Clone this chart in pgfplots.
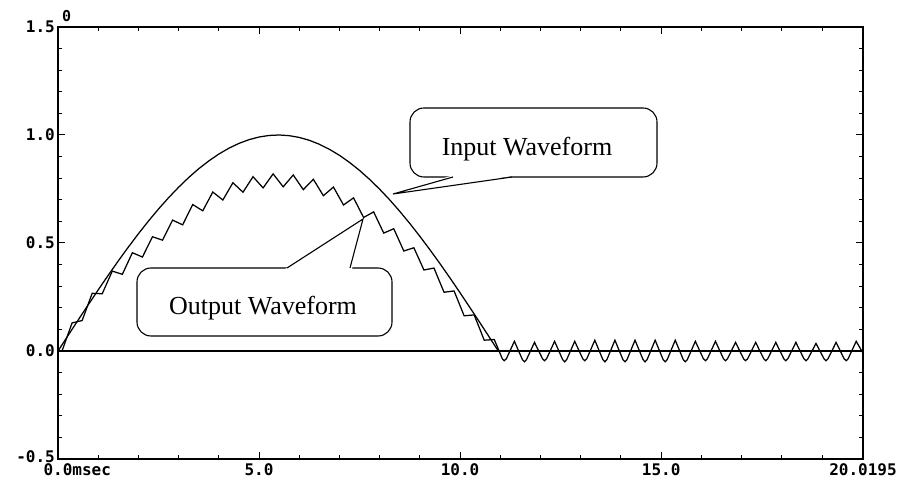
\documentclass[border=0pt]{standalone}
\usepackage{fontspec}
\usepackage{pgfplots}
\pgfplotsset{compat=1.18}
\newfontfamily\tickfont{DejaVu Sans Mono}
\newfontfamily\callfont{Liberation Serif}
\begin{document}
\begin{tikzpicture}
\useasboundingbox (-58pt,-25pt) rectangle (846pt,459pt);
\begin{axis}[at={(0pt,0pt)}, anchor=south west, scale only axis,
  width=805pt, height=432pt,
  xmin=0, xmax=20.0195, ymin=-0.5, ymax=1.5,
  axis line style={line width=1.6pt},
  tick align=inside, tick style={black, line width=1pt},
  major tick length=7pt, minor tick length=4pt,
  xtick={0,5,10,15,20.0195},
  xticklabels={0.0\rlap{msec},5.0,10.0,15.0,20.0195},
  minor xtick={1,2,3,4,6,7,8,9,11,12,13,14,16,17,18,19},
  ytick={-0.5,0,0.5,1,1.5},
  yticklabels={\raisebox{4pt}{-0.5},0.0,0.5,1.0,1.5},
  minor ytick={-0.4,-0.3,-0.2,-0.1,0.1,0.2,0.3,0.4,0.6,0.7,0.8,0.9,1.1,1.2,1.3,1.4},
  ticklabel style={font=\tickfont\bfseries\fontsize{16}{16}\selectfont},
  yticklabel style={anchor=east, inner sep=1pt, xshift=-2pt},
  xticklabel style={anchor=north, inner sep=1pt, yshift=-3pt},
  clip=false]
% zero line
\addplot[black, line width=1.6pt] coordinates {(0,0) (20.0195,0)};
% input waveform
\addplot[black, line width=1.25pt] coordinates {
(0,0) (0.25,0.0717) (0.5,0.1430) (0.75,0.2135) (1.0,0.2830) (1.25,0.3510)
(1.5,0.4172) (1.75,0.4813) (2.0,0.5429) (2.25,0.6017) (2.5,0.6574) (2.75,0.7097)
(3.0,0.7583) (3.25,0.8031) (3.5,0.8438) (3.75,0.8799) (4.0,0.9118) (4.25,0.9389)
(4.5,0.9611) (4.75,0.9784) (5.0,0.9907) (5.25,0.9979) (5.5,1.0000) (5.75,0.9969)
(6.0,0.9887) (6.25,0.9754) (6.5,0.9571) (6.75,0.9338) (7.0,0.9059) (7.25,0.8730)
(7.5,0.8358) (7.75,0.7944) (8.0,0.7488) (8.25,0.6995) (8.5,0.6464) (8.75,0.5901)
(9.0,0.5307) (9.25,0.4685) (9.5,0.4042) (9.75,0.3376) (10.0,0.2692) (10.25,0.1996)
(10.5,0.1288) (10.75,0.0574) (10.95,0) (20.0195,0)};
% output waveform
\addplot[black, line width=1.25pt] coordinates {
(0,0) (0.1,0.0) (0.35,0.130) (0.6,0.141) (0.85,0.267) (1.1,0.265) (1.35,0.370)
(1.6,0.355) (1.85,0.455) (2.1,0.435) (2.35,0.529) (2.6,0.513) (2.85,0.606)
(3.1,0.584) (3.35,0.678) (3.6,0.649) (3.85,0.736) (4.1,0.699) (4.35,0.779)
(4.6,0.735) (4.85,0.807) (5.1,0.755) (5.35,0.820) (5.6,0.760) (5.85,0.815)
(6.1,0.747) (6.35,0.795) (6.6,0.719) (6.85,0.759) (7.1,0.676) (7.35,0.709)
(7.6,0.618) (7.85,0.644) (8.1,0.546) (8.35,0.566) (8.6,0.463) (8.85,0.478)
(9.1,0.375) (9.35,0.384) (9.6,0.272) (9.85,0.278) (10.1,0.163) (10.35,0.167)
(10.6,0.050) (10.85,0.053)
(11.05,-0.036) (11.1,-0.045) (11.15,-0.036) (11.35,0.045)
(11.55,-0.04) (11.6,-0.05) (11.65,-0.04) (11.85,0.04)
(12.05,-0.036) (12.1,-0.045) (12.15,-0.036) (12.35,0.045)
(12.55,-0.04) (12.6,-0.05) (12.65,-0.04) (12.85,0.045)
(13.05,-0.036) (13.1,-0.045) (13.15,-0.036) (13.35,0.05)
(13.55,-0.04) (13.6,-0.05) (13.65,-0.04) (13.85,0.05)
(14.05,-0.04) (14.1,-0.05) (14.15,-0.04) (14.35,0.05)
(14.55,-0.04) (14.6,-0.05) (14.65,-0.04) (14.85,0.05)
(15.05,-0.04) (15.1,-0.05) (15.15,-0.04) (15.35,0.05)
(15.55,-0.04) (15.6,-0.05) (15.65,-0.04) (15.85,0.045)
(16.05,-0.036) (16.1,-0.045) (16.15,-0.036) (16.35,0.045)
(16.55,-0.036) (16.6,-0.045) (16.65,-0.036) (16.85,0.04)
(17.05,-0.036) (17.1,-0.045) (17.15,-0.036) (17.35,0.04)
(17.55,-0.036) (17.6,-0.045) (17.65,-0.036) (17.85,0.04)
(18.05,-0.036) (18.1,-0.045) (18.15,-0.036) (18.35,0.04)
(18.55,-0.036) (18.6,-0.045) (18.65,-0.036) (18.85,0.035)
(19.05,-0.036) (19.1,-0.045) (19.15,-0.036) (19.35,0.04)
(19.55,-0.036) (19.6,-0.045) (19.65,-0.036) (19.85,0.045)
(20.0195,-0.01)};
\node[anchor=south west, inner sep=0pt, font=\tickfont\bfseries\fontsize{15}{15}\selectfont]
  at ([xshift=4pt,yshift=5pt]rel axis cs:0,1) {0};
\end{axis}
% Input callout
\draw[line width=1.1pt, rounded corners=14pt, fill=white] (352pt,282pt) rectangle (599pt,351pt);
\fill[white] (393pt,283.2pt) -- (335pt,265pt) -- (456pt,283.2pt) -- cycle;
\draw[line width=1.1pt] (395pt,282pt) -- (335pt,265pt) -- (454pt,282pt);
\node[anchor=base, inner sep=0pt, font=\callfont\fontsize{26}{30}\selectfont] at (469pt,303pt) {Input Waveform};
% Output callout
\draw[line width=1.1pt, rounded corners=14pt, fill=white] (79pt,123pt) rectangle (334pt,191pt);
\fill[white] (227pt,189.8pt) -- (305pt,240pt) -- (294pt,189.8pt) -- cycle;
\draw[line width=1.1pt] (229pt,191pt) -- (305pt,240pt) -- (292pt,191pt);
\node[anchor=base, inner sep=0pt, font=\callfont\fontsize{26}{30}\selectfont] at (205pt,144pt) {Output Waveform};
\end{tikzpicture}
\end{document}
